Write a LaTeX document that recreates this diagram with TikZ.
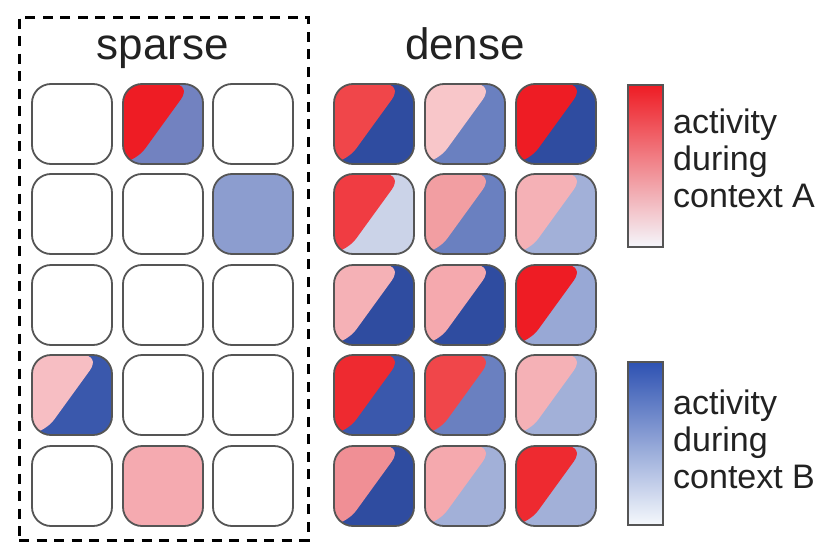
\documentclass[tikz,border=0pt]{standalone}
\usepackage{fontspec}
\setmainfont{Liberation Sans}
\usetikzlibrary{calc}
\definecolor{cellline}{HTML}{555555}
\definecolor{txt}{HTML}{222222}
% reds
\definecolor{rA}{HTML}{EE1C24}
\definecolor{rA2}{HTML}{EE2A30}
\definecolor{rB}{HTML}{F0464A}
\definecolor{rB2}{HTML}{F03C42}
\definecolor{rC}{HTML}{F08F95}
\definecolor{rC2}{HTML}{F29EA2}
\definecolor{rD}{HTML}{F5B1B6}
\definecolor{rD2}{HTML}{F5A9AE}
\definecolor{rE}{HTML}{F8C6C9}
\definecolor{rS}{HTML}{F7BEC3}
% blues
\definecolor{bA}{HTML}{2F4CA0}
\definecolor{bA2}{HTML}{3A58AC}
\definecolor{bB}{HTML}{6A80C0}
\definecolor{bB2}{HTML}{7282C0}
\definecolor{bM}{HTML}{8C9DCF}
\definecolor{bC}{HTML}{A2B0D8}
\definecolor{bC2}{HTML}{98A8D5}
\definecolor{bD}{HTML}{CBD3E8}
\definecolor{pinkfull}{HTML}{F5AAB0}
\tikzset{
  cellbox/.style={rectangle, rounded corners=19pt, minimum width=80pt, minimum height=80pt,
    draw=cellline, line width=1.8pt, inner sep=0pt, fill=white},
  splitfill/.style 2 args={path picture={
    \fill[#2] (path picture bounding box.south west) rectangle (path picture bounding box.north east);
    \fill[#1] (path picture bounding box.south west) -- ++(11pt,0pt)
      -- ($(path picture bounding box.north east)+(-11pt,0pt)$)
      -- (path picture bounding box.north west) -- cycle;}},
  title/.style={font=\fontsize{44}{50}\selectfont, text=txt, anchor=base, inner sep=0pt},
  lbl/.style={font=\fontsize{34}{37}\selectfont, text=txt, anchor=base west, inner sep=0pt},
  bar/.style={draw=cellline, line width=1.6pt, minimum width=35pt, minimum height=162pt, inner sep=0pt}
}
\begin{document}
\begin{tikzpicture}[x=1pt,y=-1pt]
\useasboundingbox (0,0) rectangle (822,541);
\fill[white] (0,0) rectangle (822,541);
% dashed frame
\node[draw=black, line width=3pt, dash pattern=on 10pt off 7.5pt, minimum width=289pt, minimum height=523pt, inner sep=0pt] (frame) at (163.5,278.5) {};
% titles
\node[title] (tsparse) at (163,59) {sparse};
\node[title] (tdense) at (465,59) {dense};
% sparse cells
\node[cellbox] (s11) at (72,124) {};
\node[cellbox, splitfill={rA}{bB2}] (s12) at (163,124) {};
\node[cellbox] (s13) at (253,124) {};
\node[cellbox] (s21) at (72,214) {};
\node[cellbox] (s22) at (163,214) {};
\node[cellbox, fill=bM] (s23) at (253,214) {};
\node[cellbox] (s31) at (72,305) {};
\node[cellbox] (s32) at (163,305) {};
\node[cellbox] (s33) at (253,305) {};
\node[cellbox, splitfill={rS}{bA2}] (s41) at (72,395) {};
\node[cellbox] (s42) at (163,395) {};
\node[cellbox] (s43) at (253,395) {};
\node[cellbox] (s51) at (72,486) {};
\node[cellbox, fill=pinkfull] (s52) at (163,486) {};
\node[cellbox] (s53) at (253,486) {};
% dense cells
\node[cellbox, splitfill={rB}{bA}] (d11) at (374,124) {};
\node[cellbox, splitfill={rE}{bB}] (d12) at (465,124) {};
\node[cellbox, splitfill={rA}{bA}] (d13) at (556,124) {};
\node[cellbox, splitfill={rB2}{bD}] (d21) at (374,214) {};
\node[cellbox, splitfill={rC2}{bB}] (d22) at (465,214) {};
\node[cellbox, splitfill={rD}{bC}] (d23) at (556,214) {};
\node[cellbox, splitfill={rD}{bA}] (d31) at (374,305) {};
\node[cellbox, splitfill={rD2}{bA}] (d32) at (465,305) {};
\node[cellbox, splitfill={rA}{bC2}] (d33) at (556,305) {};
\node[cellbox, splitfill={rA2}{bA2}] (d41) at (374,395) {};
\node[cellbox, splitfill={rB}{bB}] (d42) at (465,395) {};
\node[cellbox, splitfill={rD}{bC}] (d43) at (556,395) {};
\node[cellbox, splitfill={rC}{bA}] (d51) at (374,486) {};
\node[cellbox, splitfill={rD2}{bC}] (d52) at (465,486) {};
\node[cellbox, splitfill={rA2}{bC}] (d53) at (556,486) {};
% colour bars
\node[bar, top color=rA, middle color={rgb,255:red,222;green,160;blue,175}, bottom color={rgb,255:red,244;green,246;blue,251}] (barA) at (645.5,166) {};
\node[bar, minimum height=163pt, top color={rgb,255:red,46;green,82;blue,178}, middle color={rgb,255:red,100;green,145;blue,215}, bottom color={rgb,255:red,245;green,248;blue,252}] (barB) at (645.5,443.5) {};
% labels
\node[lbl] (la1) at (673,133) {activity};
\node[lbl] (la2) at (673,170) {during};
\node[lbl] (la3) at (673,207) {context A};
\node[lbl] (lb1) at (673,414) {activity};
\node[lbl] (lb2) at (673,451) {during};
\node[lbl] (lb3) at (673,488) {context B};
\end{tikzpicture}
\end{document}
